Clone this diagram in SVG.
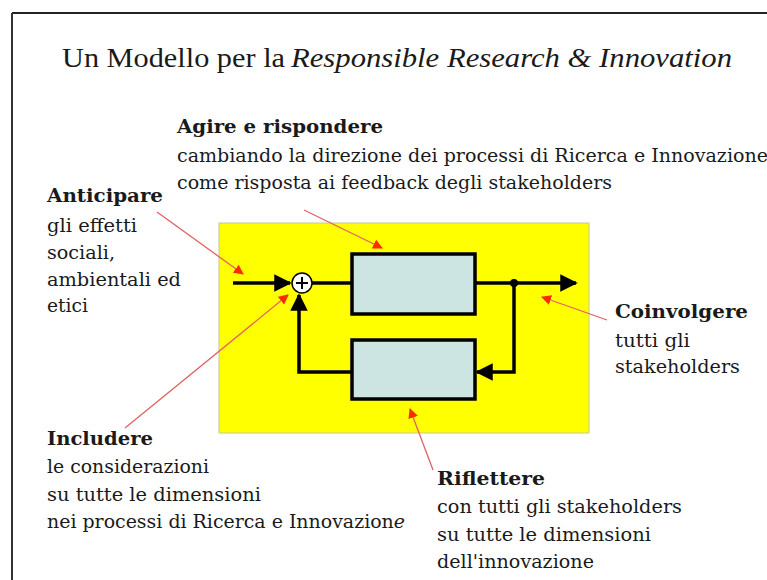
<svg xmlns="http://www.w3.org/2000/svg" width="767" height="580" viewBox="0 0 767 580">
<style>
text{font-family:"DejaVu Serif","Liberation Serif",serif;fill:#1a1a1a;font-size:18.5px}
.b{font-weight:bold}
.t{font-family:"Liberation Serif","DejaVu Serif",serif;font-size:28px}
.ann{stroke:#e46060;stroke-width:1.3;fill:none;marker-end:url(#ra)}
.flow{stroke:#000;stroke-width:3.5;fill:none}
.blk{fill:#cde5e2;stroke:#000;stroke-width:3.5}
</style>
<defs>
<marker id="ra" viewBox="0 0 10 10" refX="9" refY="5" markerWidth="10" markerHeight="10" markerUnits="userSpaceOnUse" orient="auto"><path d="M0,0L10,5L0,10z" fill="#ff2a00"/></marker>
<marker id="ba" viewBox="0 0 10 10" refX="9" refY="5" markerWidth="5" markerHeight="5" orient="auto"><path d="M0,0L10,5L0,10z" fill="#000"/></marker>
</defs>
<g id="frame">
<line x1="12" y1="13" x2="767" y2="13" stroke="#222" stroke-width="2"/>
<line x1="12" y1="13" x2="12" y2="580" stroke="#333" stroke-width="2"/>
</g>
<g id="title">
<text class="t" x="62" y="67" textLength="223" lengthAdjust="spacingAndGlyphs">Un Modello per la</text>
<text class="t" x="291" y="67" font-style="italic" textLength="441" lengthAdjust="spacingAndGlyphs">Responsible Research &amp; Innovation</text>
</g>
<g id="model">
<rect x="219" y="223" width="370" height="210" fill="#ffff00" stroke="#c8c890" stroke-width="1"/>
<g id="block-top"><rect class="blk" x="352" y="254" width="123" height="60"/></g>
<g id="block-bottom"><rect class="blk" x="352" y="340" width="123" height="59"/></g>
<g id="sum"><circle cx="302" cy="283" r="10" fill="#fff" stroke="#000" stroke-width="1.5"/>
<path d="M296,283H308M302,277V289" stroke="#000" stroke-width="2"/></g>
</g>
<g id="connectors">
<line class="flow" x1="233" y1="283" x2="290" y2="283" marker-end="url(#ba)"/>
<line class="flow" x1="312" y1="283" x2="352" y2="283"/>
<line class="flow" x1="475" y1="283" x2="576" y2="283" marker-end="url(#ba)"/>
<circle cx="514" cy="283" r="4" fill="#000"/>
<polyline class="flow" points="514,283 514,372 477,372" marker-end="url(#ba)"/>
<polyline class="flow" points="352,372 299,372 299,295" marker-end="url(#ba)"/>
<line class="ann" x1="157" y1="212" x2="243" y2="274"/>
<line class="ann" x1="304" y1="210" x2="382" y2="248"/>
<line class="ann" x1="125" y1="428" x2="288" y2="295"/>
<line class="ann" x1="607" y1="320" x2="542" y2="297"/>
<line class="ann" x1="433" y1="470" x2="410" y2="409"/>
</g>
<g id="agire">
<text class="b" x="177" y="133" textLength="206" lengthAdjust="spacingAndGlyphs">Agire e rispondere</text>
<text x="177" y="162" textLength="591" lengthAdjust="spacingAndGlyphs">cambiando la direzione dei processi di Ricerca e Innovazione</text>
<text x="177" y="189" textLength="435" lengthAdjust="spacingAndGlyphs">come risposta ai feedback degli stakeholders</text>
</g>
<g id="anticipare">
<text class="b" x="47" y="202" textLength="116" lengthAdjust="spacingAndGlyphs">Anticipare</text>
<text x="47" y="232" textLength="90" lengthAdjust="spacingAndGlyphs">gli effetti</text>
<text x="47" y="259" textLength="68" lengthAdjust="spacingAndGlyphs">sociali,</text>
<text x="47" y="286" textLength="134" lengthAdjust="spacingAndGlyphs">ambientali ed</text>
<text x="47" y="312" textLength="41" lengthAdjust="spacingAndGlyphs">etici</text>
</g>
<g id="coinvolgere">
<text class="b" x="615" y="318" textLength="133" lengthAdjust="spacingAndGlyphs">Coinvolgere</text>
<text x="615" y="347" textLength="75" lengthAdjust="spacingAndGlyphs">tutti gli</text>
<text x="615" y="373" textLength="125" lengthAdjust="spacingAndGlyphs">stakeholders</text>
</g>
<g id="includere">
<text class="b" x="47" y="445" textLength="106" lengthAdjust="spacingAndGlyphs">Includere</text>
<text x="47" y="473" textLength="162" lengthAdjust="spacingAndGlyphs">le considerazioni</text>
<text x="47" y="501" textLength="214" lengthAdjust="spacingAndGlyphs">su tutte le dimensioni</text>
<text x="47" y="528" textLength="358" lengthAdjust="spacingAndGlyphs">nei processi di Ricerca e Innovazion<tspan font-style="italic">e</tspan></text>
</g>
<g id="riflettere">
<text class="b" x="437" y="485" textLength="108" lengthAdjust="spacingAndGlyphs">Riflettere</text>
<text x="437" y="513" textLength="245" lengthAdjust="spacingAndGlyphs">con tutti gli stakeholders</text>
<text x="437" y="541" textLength="214" lengthAdjust="spacingAndGlyphs">su tutte le dimensioni</text>
<text x="437" y="568" textLength="157" lengthAdjust="spacingAndGlyphs">dell'innovazione</text>
</g>
</svg>
